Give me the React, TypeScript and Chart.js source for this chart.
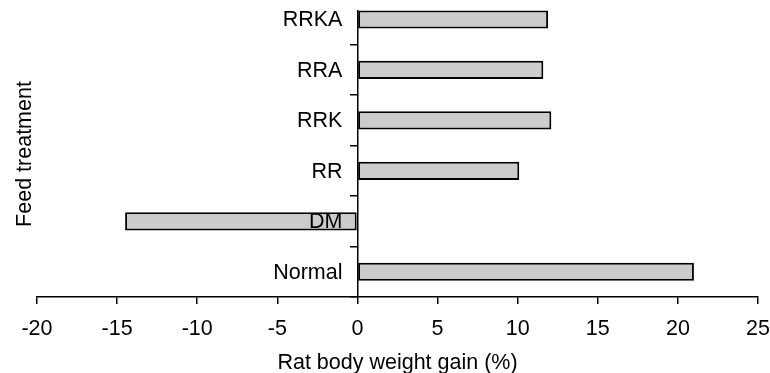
import React, { useEffect, useRef } from "react";
import { Chart, registerables } from "chart.js";

Chart.register(...registerables);

// Feed treatments, listed bottom to top
const categories = ["Normal", "DM", "RR", "RRK", "RRA", "RRKA"];
// Rat body weight gain (%) per treatment
const weightGain = [21.0, -14.5, 10.1, 12.1, 11.6, 11.9];

const xMin = -20;
const xMax = 25;
const xStep = 5;

const FONT = "'Liberation Sans', Arial, Helvetica, sans-serif";
const FONT_SIZE = 21.5;

// Scales should not reserve extra room for their labels; layout padding handles it
const noScalePadding = (scale: any) => {
  scale.paddingTop = 0;
  scale.paddingBottom = 0;
  scale.paddingLeft = 0;
  scale.paddingRight = 0;
};

// Treatment names placed just left of the zero line, drawn above the bars
const categoryLabelPlugin = {
  id: "categoryLabels",
  afterDatasetsDraw(chart: any) {
    const { ctx, scales } = chart;
    const x0 = scales.x.getPixelForValue(0);
    ctx.save();
    ctx.font = `${FONT_SIZE}px ${FONT}`;
    ctx.fillStyle = "#000";
    ctx.textAlign = "right";
    ctx.textBaseline = "middle";
    categories.forEach((name, i) => {
      ctx.fillText(name, x0 - 15, scales.y.getPixelForValue(i) + 1);
    });
    ctx.restore();
  },
};

// Vertical axis title drawn rotated at the left edge
const yTitlePlugin = {
  id: "yTitle",
  afterDraw(chart: any) {
    const { ctx, chartArea } = chart;
    ctx.save();
    ctx.translate(31, (chartArea.top + chartArea.bottom) / 2);
    ctx.rotate(-Math.PI / 2);
    ctx.font = `${FONT_SIZE}px ${FONT}`;
    ctx.fillStyle = "#000";
    ctx.textAlign = "center";
    ctx.textBaseline = "alphabetic";
    ctx.fillText("Feed treatment", 0, 0);
    ctx.restore();
  },
};

export default function App() {
  const canvasRef = useRef<HTMLCanvasElement | null>(null);

  useEffect(() => {
    if (!canvasRef.current) return;
    const chart = new Chart(canvasRef.current, {
      type: "bar",
      data: {
        datasets: [
          {
            data: weightGain.map((v, i) => ({ x: v, y: i })),
            backgroundColor: "#cccccc",
            borderColor: "#000000",
            borderWidth: 2,
            borderSkipped: false,
            categoryPercentage: 1,
            barPercentage: 0.36,
            clip: false,
          } as any,
        ],
      },
      options: {
        indexAxis: "y",
        animation: false,
        responsive: true,
        maintainAspectRatio: false,
        layout: { padding: { left: 37, right: 12, top: 11, bottom: 0 } },
        plugins: {
          legend: { display: false },
          tooltip: { enabled: false },
        },
        scales: {
          x: {
            type: "linear",
            position: "bottom",
            min: xMin,
            max: xMax,
            afterFit: (scale: any) => {
              noScalePadding(scale);
              scale.height = 76;
            },
            ticks: {
              stepSize: xStep,
              color: "#000",
              padding: 12,
              font: { family: FONT, size: FONT_SIZE },
            },
            grid: {
              drawOnChartArea: false,
              drawTicks: true,
              tickLength: 7,
              color: "#000",
              lineWidth: 1.5,
            },
            border: { display: true, color: "#000", width: 1.5 },
            title: {
              display: true,
              text: "Rat body weight gain (%)",
              color: "#000",
              padding: { top: 8, bottom: -3 },
              font: { family: FONT, size: FONT_SIZE },
            },
          },
          y: {
            type: "linear",
            position: { x: 0 } as any,
            offset: false,
            min: -0.5,
            max: 5.168,
            afterFit: noScalePadding,
            afterBuildTicks: (scale: any) => {
              scale.ticks = categories.map((_, i) => ({ value: i }));
            },
            ticks: { display: false },
            grid: {
              offset: true,
              drawOnChartArea: false,
              drawTicks: true,
              tickLength: 7,
              color: "#000",
              lineWidth: 1.5,
            },
            border: { display: true, color: "#000", width: 1.5 },
          },
        },
      },
      plugins: [categoryLabelPlugin, yTitlePlugin],
    });
    return () => chart.destroy();
  }, []);

  return (
    <div
      style={{
        position: "absolute",
        left: 0,
        top: 0,
        width: 770,
        height: 373,
        background: "#fff",
      }}
    >
      <canvas ref={canvasRef} />
    </div>
  );
}
